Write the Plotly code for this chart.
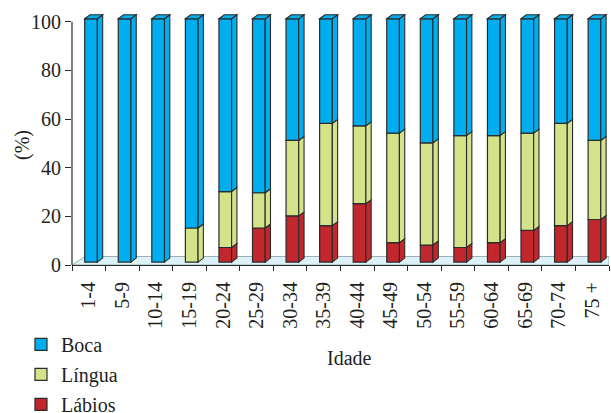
import plotly.graph_objects as go

# Age groups and share of each tumour site (%)
idade = ["1-4", "5-9", "10-14", "15-19", "20-24", "25-29", "30-34", "35-39",
         "40-44", "45-49", "50-54", "55-59", "60-64", "65-69", "70-74", "75 +"]
labios = [0, 0, 0, 0, 6, 14, 19, 15, 24, 8, 7, 6, 8, 13, 15, 17.5]
lingua = [0, 0, 0, 14, 23, 14.5, 31, 42, 32, 45, 42, 46, 44, 40, 42, 32.5]
boca = [100, 100, 100, 86, 71, 71.5, 50, 43, 44, 47, 51, 48, 48, 47, 43, 50]
y_ticks = [0, 20, 40, 60, 80, 100]

C_BOCA = "#00AEEF"
C_LINGUA = "#D4E28A"
C_LABIOS = "#C1272D"
EDGE = "#2b2b2b"
TXT = "#231f20"
FONT = "Liberation Serif"

# pseudo-3D geometry (category units on x, percent units on y)
LIFT = 1.2      # front face raised above the floor's front edge
W = 0.378       # front face width
OFF = -0.122    # front face left edge relative to category centre
DX = 0.158      # depth offset to the right
DY = 1.65       # depth offset upwards
FLOOR_D = 3.5   # floor depth (y)
FLOOR_DX = 0.39 # floor depth (x)

# stacking order bottom -> top, with legend rank (top row first)
series = [("Lábios", labios, C_LABIOS, 3), ("Língua", lingua, C_LINGUA, 2), ("Boca", boca, C_BOCA, 1)]

fig = go.Figure()
shapes = []

# floor of the 3D chart
shapes.append(dict(
    type="path", xref="x", yref="y", layer="below",
    path=f"M -0.5,0 L 15.5,0 L 15.5,{FLOOR_D} L {-0.5 + FLOOR_DX},{FLOOR_D} Z",
    fillcolor="#DDF1F9", line=dict(color="#8a9aa0", width=0.8)))

bases = [LIFT] * len(idade)
for name, vals, col, rank in series:
    b = list(bases)
    fig.add_trace(go.Bar(
        x=idade, y=[v if v > 0 else None for v in vals], base=b,
        width=W, offset=OFF, name=name, legendgroup=name, legendrank=rank,
        marker=dict(color=col, line=dict(color=EDGE, width=1.2)),
        hoverinfo="skip"))
    for i, v in enumerate(vals):
        if v <= 0:
            continue
        xr = i + OFF + W
        y0, y1 = b[i], b[i] + v
        shapes.append(dict(
            type="path", xref="x", yref="y", layer="above",
            path=f"M {xr},{y0} L {xr + DX},{y0 + DY} L {xr + DX},{y1 + DY} L {xr},{y1} Z",
            fillcolor=col, line=dict(color=EDGE, width=1.1)))
        bases[i] = y1

# top faces
for i, top in enumerate(bases):
    xl = i + OFF
    xr = xl + W
    shapes.append(dict(
        type="path", xref="x", yref="y", layer="above",
        path=f"M {xl},{top} L {xl + DX},{top + DY} L {xr + DX},{top + DY} L {xr},{top} Z",
        fillcolor=C_BOCA, line=dict(color=EDGE, width=1.1)))

# y-axis line from 0 to 100
shapes.append(dict(type="line", xref="paper", yref="y", x0=0, x1=0, y0=0, y1=100,
                   line=dict(color=EDGE, width=1.2), layer="above"))

fig.update_layout(
    width=611, height=413,
    margin=dict(l=72, r=2, t=12, b=148, autoexpand=False),
    paper_bgcolor="white", plot_bgcolor="white",
    barmode="overlay",
    font=dict(family=FONT, size=20, color=TXT),
    showlegend=True,
    legend=dict(
        x=-0.095, y=-0.237, xanchor="left", yanchor="top",
        orientation="v", traceorder="grouped", tracegroupgap=1,
        font=dict(family=FONT, size=20, color=TXT),
        bgcolor="rgba(0,0,0,0)"),
    shapes=shapes,
    annotations=[
        dict(text="(%)", xref="paper", yref="paper", x=(22 - 72) / 537, y=(265 - 145) / 253,
             xanchor="center", yanchor="middle",
             textangle=-90, showarrow=False, font=dict(family=FONT, size=20, color=TXT)),
        dict(text="Idade", xref="paper", yref="paper", x=(349 - 72) / 537, y=(265 - 358) / 253,
             xanchor="center", yanchor="middle",
             showarrow=False, font=dict(family=FONT, size=20, color=TXT)),
    ],
)

fig.update_xaxes(
    type="category", categoryorder="array", categoryarray=idade,
    range=[-0.5, 15.5], showline=True, linecolor=EDGE, linewidth=1.2,
    ticks="outside", ticklen=5, tickcolor=EDGE, tickson="boundaries",
    tickangle=-90, ticklabelstandoff=8, showgrid=False, zeroline=False,
    tickfont=dict(family=FONT, size=20, color=TXT))
fig.update_yaxes(
    range=[0, 104], tickvals=y_ticks, ticktext=[str(v) for v in y_ticks],
    showline=False, ticks="outside", ticklen=6, tickcolor=EDGE,
    showgrid=False, zeroline=False,
    tickfont=dict(family=FONT, size=20, color=TXT))

fig.write_html("out.html")
